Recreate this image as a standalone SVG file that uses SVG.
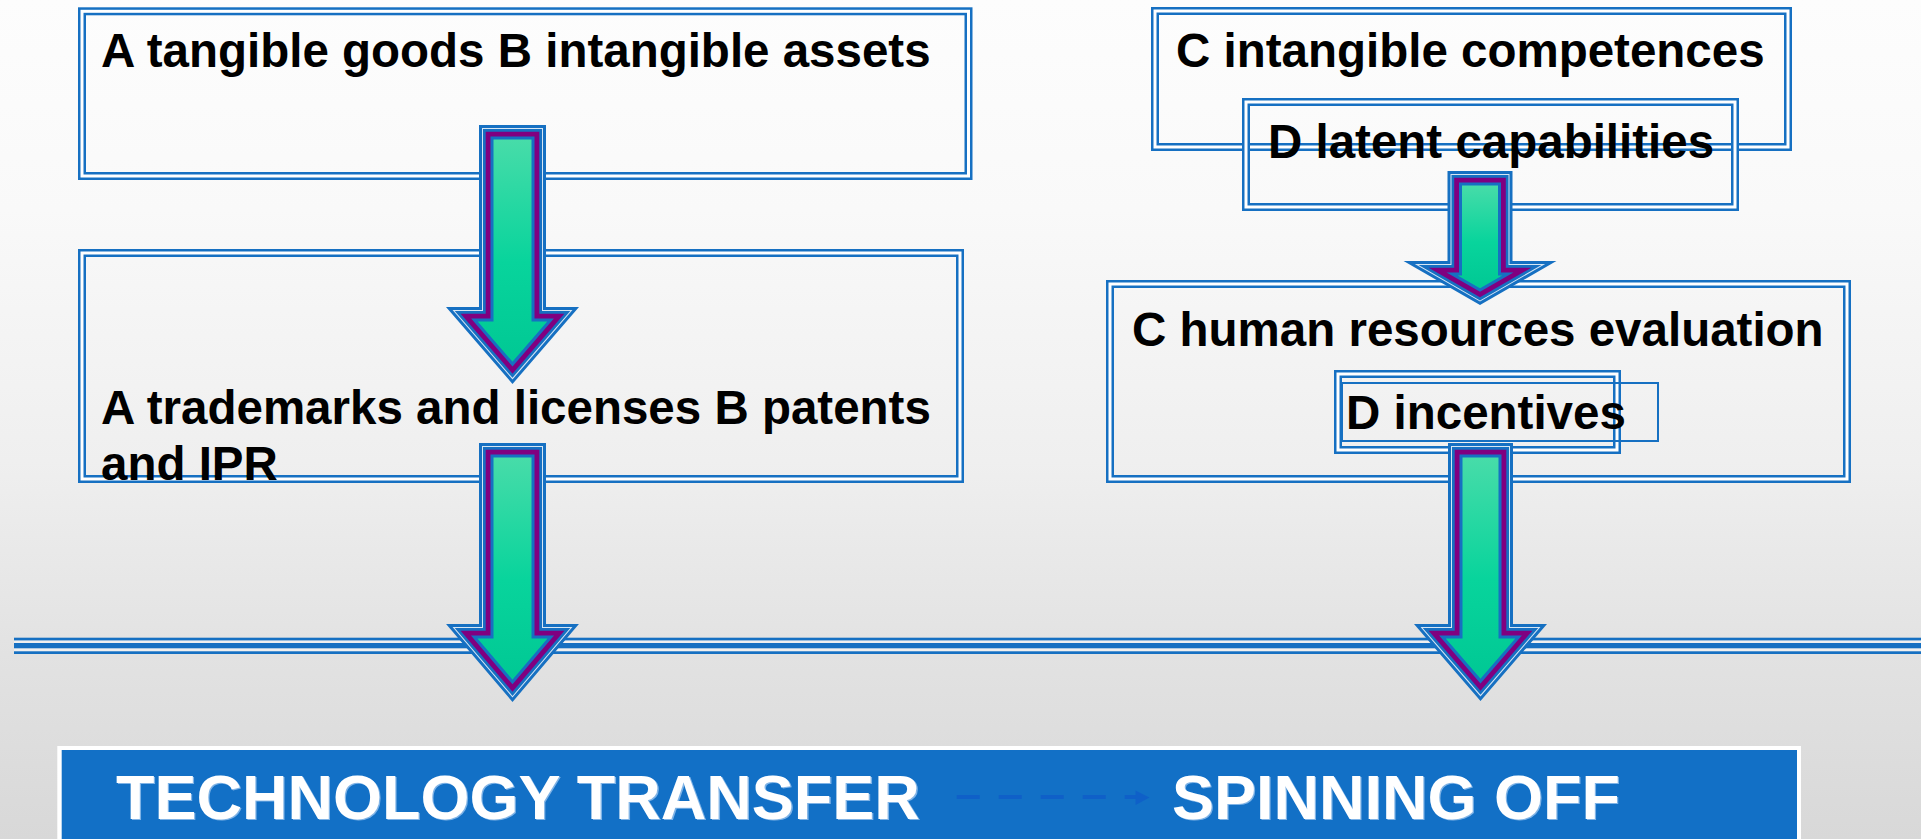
<svg xmlns="http://www.w3.org/2000/svg" xmlns:xlink="http://www.w3.org/1999/xlink" width="1921" height="839" viewBox="0 0 1921 839">
  <defs>
    <linearGradient id="bg" x1="0" y1="0" x2="0" y2="1">
      <stop offset="0" stop-color="#fdfdfd"/>
      <stop offset="0.25" stop-color="#f9f9f9"/>
      <stop offset="0.55" stop-color="#efefef"/>
      <stop offset="0.78" stop-color="#e2e2e2"/>
      <stop offset="1" stop-color="#d8d8d8"/>
    </linearGradient>
    <linearGradient id="arrowFill" x1="0" y1="0" x2="0" y2="1">
      <stop offset="0" stop-color="#48dca9"/>
      <stop offset="0.55" stop-color="#08d49c"/>
      <stop offset="1" stop-color="#00c894"/>
    </linearGradient>
    <style>
      .lbl { font-family: "Liberation Sans", Arial, sans-serif; font-weight: bold; font-size: 47.5px; fill: #000; }
      .bar { font-family: "Liberation Sans", Arial, sans-serif; font-weight: bold; font-size: 63px; }
      .frame { fill: none; stroke: #1670c2; stroke-width: 8; }
      .gap { fill: none; stroke: #ffffff; stroke-width: 3; }
      .thin { fill: none; stroke: #1670c2; stroke-width: 2; }
      .a1 { fill: none; stroke: #1670c2; stroke-width: 26; stroke-linejoin: miter; stroke-miterlimit: 10; }
      .a2 { fill: none; stroke: #d6e6f4; stroke-width: 20; stroke-linejoin: miter; stroke-miterlimit: 10; }
      .a3 { fill: none; stroke: #1670c2; stroke-width: 18; stroke-linejoin: miter; stroke-miterlimit: 10; }
      .a4 { fill: none; stroke: #800080; stroke-width: 12.6; stroke-linejoin: miter; stroke-miterlimit: 10; }
      .a5 { fill: url(#arrowFill); stroke: #1670c2; stroke-width: 3; stroke-linejoin: miter; stroke-miterlimit: 10; }
    </style>
    <!-- arrow cores (green area); the rings are built from strokes -->
    <polygon id="p-l1" points="492,138 533,138 533,320 550.6,320 512.5,364.1 474.4,320 492,320"/>
    <polygon id="p-l2" points="492,456 533,456 533,637 550.8,637 512.5,682 474.2,637 492,637"/>
    <polygon id="p-r1" points="1460.5,184 1499.5,184 1499.5,274 1507.8,274 1480,290 1452.2,274 1460.5,274"/>
    <polygon id="p-r2" points="1461,456 1500,456 1500,637 1518.6,637 1480.5,681.1 1442.4,637 1461,637"/>
  </defs>

  <rect x="0" y="0" width="1921" height="839" fill="url(#bg)"/>

  <!-- separator rule -->
  <g id="rule">
    <rect x="14" y="640" width="1907" height="11.5" fill="#f0f0f0"/>
    <rect x="14" y="637.7" width="1907" height="2.7" fill="#1670c2"/>
    <rect x="14" y="643" width="1907" height="5.3" fill="#1670c2"/>
    <rect x="14" y="651.3" width="1907" height="2.7" fill="#1670c2"/>
  </g>

  <g id="node-tangible">
    <rect class="frame" x="82" y="11.3" width="886.5" height="164.7"/>
    <rect class="gap" x="82" y="11.3" width="886.5" height="164.7"/>
    <text class="lbl" x="101" y="67">A tangible goods B intangible assets</text>
  </g>

  <g id="node-trademarks">
    <rect class="frame" x="82" y="253" width="878" height="226"/>
    <rect class="gap" x="82" y="253" width="878" height="226"/>
    <text class="lbl" x="101" y="424">A trademarks and licenses B patents</text>
    <text class="lbl" x="101" y="480">and IPR</text>
  </g>

  <g id="node-competences">
    <rect class="frame" x="1155" y="11" width="633" height="136"/>
    <rect class="gap" x="1155" y="11" width="633" height="136"/>
    <text class="lbl" x="1176" y="67">C intangible competences</text>
  </g>

  <g id="node-latent">
    <rect class="frame" x="1246" y="102" width="489" height="105"/>
    <rect class="gap" x="1246" y="102" width="489" height="105"/>
    <text class="lbl" x="1268" y="158">D latent capabilities</text>
  </g>

  <g id="node-hr">
    <rect class="frame" x="1110" y="284" width="737" height="195"/>
    <rect class="gap" x="1110" y="284" width="737" height="195"/>
    <text class="lbl" x="1132" y="346">C human resources evaluation</text>
  </g>

  <g id="node-incentives">
    <rect class="frame" x="1338" y="374" width="279" height="76"/>
    <rect class="gap" x="1338" y="374" width="279" height="76"/>
    <rect class="thin" x="1342" y="383" width="316" height="58"/>
    <text class="lbl" x="1346" y="429">D incentives</text>
  </g>

  <g id="node-outcomes">
    <rect x="57.3" y="746" width="1743.7" height="100" fill="#ffffff"/>
    <rect x="61.7" y="750" width="1735.3" height="96" fill="#1270c6"/>
    <text class="bar" x="117.3" y="820.3" fill="#7fb3e6">TECHNOLOGY TRANSFER</text>
    <text class="bar" x="116" y="819" fill="#ffffff">TECHNOLOGY TRANSFER</text>
    <text class="bar" x="1173.3" y="820.3" fill="#7fb3e6">SPINNING OFF</text>
    <text class="bar" x="1172" y="819" fill="#ffffff">SPINNING OFF</text>
    <line x1="956.7" y1="797" x2="1136" y2="797" stroke="#0f60c8" stroke-width="4" stroke-dasharray="23 19"/>
    <polygon points="1135.5,790.5 1149.5,797.5 1135.5,805" fill="#0f60c8"/>
  </g>

  <g id="connectors">
    <g id="arrow-l1">
      <use href="#p-l1" class="a1"/>
      <use href="#p-l1" class="a2"/>
      <use href="#p-l1" class="a3"/>
      <use href="#p-l1" class="a4"/>
      <use href="#p-l1" class="a5"/>
    </g>
    <g id="arrow-l2">
      <use href="#p-l2" class="a1"/>
      <use href="#p-l2" class="a2"/>
      <use href="#p-l2" class="a3"/>
      <use href="#p-l2" class="a4"/>
      <use href="#p-l2" class="a5"/>
    </g>
    <g id="arrow-r1">
      <use href="#p-r1" class="a1"/>
      <use href="#p-r1" class="a2"/>
      <use href="#p-r1" class="a3"/>
      <use href="#p-r1" class="a4"/>
      <use href="#p-r1" class="a5"/>
    </g>
    <g id="arrow-r2">
      <use href="#p-r2" class="a1"/>
      <use href="#p-r2" class="a2"/>
      <use href="#p-r2" class="a3"/>
      <use href="#p-r2" class="a4"/>
      <use href="#p-r2" class="a5"/>
    </g>
  </g>
</svg>
